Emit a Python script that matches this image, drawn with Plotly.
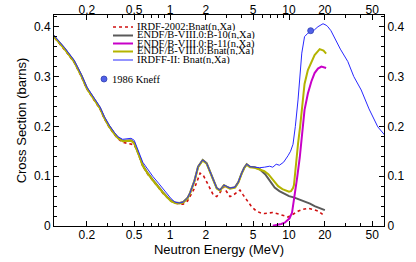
import plotly.graph_objects as go

# ---- data (Energy in MeV, cross section in barns) ----
common_E = [0.1, 0.106, 0.13, 0.156, 0.18, 0.2, 0.23, 0.258, 0.28, 0.307, 0.34, 0.366, 0.40,
            0.44, 0.47, 0.50, 0.53, 0.56, 0.59, 0.65, 0.72, 0.80, 0.87, 0.95, 1.02, 1.10,
            1.20, 1.29, 1.40, 1.47, 1.60, 1.72, 1.88, 2.03, 2.14, 2.24, 2.36, 2.47, 2.63,
            2.84, 3.0, 3.19, 3.52, 3.75, 4.0, 4.2, 4.41, 4.7, 5.15, 5.67]
common_S = [0.388, 0.381, 0.356, 0.331, 0.302, 0.277, 0.255, 0.237, 0.218, 0.201, 0.186, 0.177, 0.171,
            0.172, 0.172, 0.167, 0.153, 0.137, 0.122, 0.106, 0.092, 0.078, 0.068, 0.058, 0.051, 0.047,
            0.046, 0.048, 0.056, 0.066, 0.090, 0.119, 0.1325, 0.126, 0.112, 0.099, 0.086, 0.076, 0.072,
            0.082, 0.079, 0.076, 0.078, 0.088, 0.106, 0.117, 0.124, 0.119, 0.118, 0.114]

b10_E_hi = [6.3, 6.9, 7.57, 8.3, 9.2, 10.0, 11.1, 12.2, 13.5, 15.0, 16.4, 18.0, 20.0]
b10_S_hi = [0.104, 0.090, 0.077, 0.070, 0.064, 0.060, 0.057, 0.053, 0.050, 0.045, 0.040, 0.036, 0.032]

bnat_E_hi = [6.2, 6.7, 7.3, 8.1, 8.8, 9.5, 10.0, 10.4, 10.8, 11.0, 11.3, 11.5, 11.9, 12.4,
             12.9, 13.5, 14.4, 15.5, 16.4, 18.1, 19.5, 20.5]
bnat_S_hi = [0.110, 0.104, 0.093, 0.080, 0.074, 0.070, 0.069, 0.070, 0.076, 0.082, 0.110, 0.137,
             0.165, 0.200, 0.245, 0.285, 0.313, 0.332, 0.343, 0.355, 0.352, 0.346]

b11_E = [7.3, 8.0, 8.6, 9.2, 9.7, 10.1, 10.6, 11.1, 11.7, 12.3, 12.9, 13.5, 14.4, 15.4,
         16.4, 17.5, 18.7, 19.7, 20.5]
b11_S = [0.0005, 0.002, 0.004, 0.0067, 0.011, 0.0154, 0.027, 0.057, 0.097, 0.137, 0.191, 0.233,
         0.266, 0.290, 0.307, 0.316, 0.320, 0.319, 0.317]

irdf_E = [0.1, 0.106, 0.13, 0.156, 0.18, 0.2, 0.23, 0.258, 0.28, 0.307, 0.34, 0.366, 0.40,
          0.44, 0.47, 0.50, 0.53, 0.56, 0.59, 0.65, 0.72, 0.80, 0.87, 0.95, 1.02, 1.10,
          1.20, 1.29, 1.40, 1.47, 1.60, 1.79, 1.9, 2.08, 2.17, 2.3, 2.47, 2.65, 2.8, 2.95,
          3.19, 3.4, 3.87, 4.1, 4.41, 4.8, 5.3, 5.8, 6.25, 7.3, 8.3, 9.8, 10.8, 12.0, 13.1,
          14.4, 16.0, 17.5, 20.0]
irdf_S = [0.386, 0.379, 0.354, 0.329, 0.300, 0.275, 0.253, 0.235, 0.216, 0.199, 0.184, 0.175, 0.168,
          0.166, 0.165, 0.163, 0.151, 0.135, 0.120, 0.104, 0.090, 0.076, 0.066, 0.057, 0.050, 0.046,
          0.044, 0.044, 0.050, 0.059, 0.075, 0.106, 0.102, 0.084, 0.076, 0.063, 0.059, 0.068, 0.079,
          0.070, 0.059, 0.062, 0.072, 0.063, 0.052, 0.040, 0.030, 0.026, 0.025, 0.027, 0.0235, 0.018,
          0.0235, 0.030, 0.0335, 0.0355, 0.033, 0.030, 0.020]

irdff_E = [0.1, 0.106, 0.13, 0.156, 0.18, 0.2, 0.23, 0.258, 0.28, 0.307, 0.34, 0.366, 0.40,
           0.44, 0.47, 0.50, 0.53, 0.56, 0.59, 0.65, 0.72, 0.80, 0.87, 0.95, 1.02, 1.10,
           1.20, 1.29, 1.40, 1.47, 1.60, 1.72, 1.88, 2.03, 2.14, 2.24, 2.36, 2.47, 2.63,
           2.84, 3.0, 3.19, 3.52, 3.75, 4.0, 4.2, 4.41, 4.7, 5.15, 5.67, 6.2, 6.87, 7.3, 7.8,
           8.3, 9.0, 9.8, 10.3, 10.8, 11.1, 11.3, 11.9, 12.4, 12.8, 13.5, 14.4, 15.4, 16.4,
           17.5, 19.3, 20.5, 21.2, 22.5, 24.2, 27.0, 31.2, 35.0, 40.4, 47.0, 55.7, 65.0]
irdff_S = [0.389, 0.382, 0.358, 0.333, 0.304, 0.279, 0.257, 0.239, 0.220, 0.203, 0.188, 0.179, 0.174,
           0.176, 0.176, 0.172, 0.158, 0.142, 0.128, 0.113, 0.099, 0.086, 0.075, 0.064, 0.055, 0.048,
           0.046, 0.048, 0.056, 0.066, 0.090, 0.119, 0.1325, 0.126, 0.112, 0.099, 0.086, 0.076, 0.072,
           0.082, 0.079, 0.076, 0.078, 0.088, 0.106, 0.117, 0.124, 0.119, 0.118, 0.117, 0.118, 0.120,
           0.118, 0.124, 0.122, 0.128, 0.141, 0.150, 0.164, 0.185, 0.200, 0.253, 0.300, 0.347, 0.380,
           0.387, 0.390, 0.394, 0.400, 0.406, 0.403, 0.400, 0.392, 0.377, 0.355, 0.330, 0.300, 0.273,
           0.235, 0.199, 0.180]

kneff_E = [15.2]
kneff_S = [0.392]

legend_labels = ["IRDF-2002:Bnat(n,Xa)", "ENDF/B-VIII.0:B-10(n,Xa)", "ENDF/B-VIII.0:B-11(n,Xa)",
                 "ENDF/B-VIII.0:Bnat(n,Xa)", "IRDFF-II: Bnat(n,Xa)"]
kneff_label = "1986 Kneff"

x_tickvals = [0.2, 0.5, 1, 2, 5, 10, 20, 50]
x_ticktext = ["0.2", "0.5", "1", "2", "5", "10", "20", "50"]
x_minor = [0.3, 0.4, 0.6, 0.7, 0.8, 0.9, 3, 4, 6, 7, 8, 9, 30, 40]
y_tickvals = [0, 0.1, 0.2, 0.3, 0.4]
y_ticktext = ["0", "0.1", "0.2", "0.3", "0.4"]

# ---- styles ----
RED = "#d01010"
GRAY = "#5a5a5a"
MAG = "#c800c8"
OLIVE = "#b4b400"
BLUE = "#2828ff"
KNEFF = "#5060e8"

W, H = 416, 262
L, R, T, B = 54, 32, 15, 36
PW, PH = W - L - R, H - T - B

fig = go.Figure()
fig.add_trace(go.Scatter(x=irdf_E, y=irdf_S, mode="lines",
                         line=dict(color=RED, width=1.6, dash="dot"), name=legend_labels[0]))
fig.add_trace(go.Scatter(x=common_E + b10_E_hi, y=common_S + b10_S_hi, mode="lines",
                         line=dict(color=GRAY, width=2), name=legend_labels[1]))
fig.add_trace(go.Scatter(x=b11_E, y=b11_S, mode="lines",
                         line=dict(color=MAG, width=2), name=legend_labels[2]))
fig.add_trace(go.Scatter(x=common_E + bnat_E_hi, y=[s - 0.001 for s in common_S] + bnat_S_hi, mode="lines",
                         line=dict(color=OLIVE, width=2), name=legend_labels[3]))
fig.add_trace(go.Scatter(x=irdff_E, y=irdff_S, mode="lines",
                         line=dict(color=BLUE, width=1), name=legend_labels[4]))
fig.add_trace(go.Scatter(x=kneff_E, y=kneff_S, mode="markers",
                         marker=dict(color=KNEFF, size=6, line=dict(color="#3040b0", width=0.8)),
                         name=kneff_label))
# helper trace so the mirrored top/right axes are drawn with labels
fig.add_trace(go.Scatter(x=kneff_E, y=kneff_S, mode="markers", xaxis="x2", yaxis="y2",
                         marker=dict(opacity=0), hoverinfo="skip", showlegend=False))

xr = [-0.975, 1.798]
yr = [0, 0.4235]
SANS = "Liberation Sans, Arial, sans-serif"
tickfont = dict(family=SANS, size=12, color="black")
common_x = dict(type="log", range=xr, tickvals=x_tickvals, ticktext=x_ticktext, ticks="inside",
                ticklen=5, tickwidth=1, tickcolor="black", showline=True, linecolor="black",
                linewidth=1, showgrid=False, zeroline=False, tickfont=tickfont, automargin=False,
                minor=dict(tickvals=x_minor, ticks="inside", ticklen=3, tickcolor="black", showgrid=False))
common_y = dict(range=yr, tickvals=y_tickvals, ticktext=y_ticktext, ticks="inside", ticklen=5,
                tickwidth=1, tickcolor="black", showline=True, linecolor="black", linewidth=1,
                showgrid=False, zeroline=False, tickfont=tickfont, automargin=False,
                minor=dict(dtick=0.02, tick0=0, ticks="inside", ticklen=3, tickcolor="black", showgrid=False))

fig.update_layout(
    width=W, height=H, margin=dict(l=L, r=R, t=T, b=B, autoexpand=False),
    paper_bgcolor="white", plot_bgcolor="white", showlegend=False,
    xaxis=dict(**common_x, ticklabelstandoff=-2,
               title=dict(text="Neutron Energy (MeV)", standoff=2,
                          font=dict(family=SANS, size=13, color="black"))),
    xaxis2=dict(**common_x, overlaying="x", side="top", anchor="y", ticklabelstandoff=-5),
    yaxis=dict(**common_y, title=dict(text="Cross Section (barns)", standoff=4,
                                      font=dict(family=SANS, size=13, color="black"))),
    yaxis2=dict(**common_y, overlaying="y", side="right", anchor="x"),
)

# ---- legend drawn as annotations/shapes (paper coords from pixel positions) ----
def px(xp):
    return (xp - L) / PW

def py(yp):
    return (T + PH - yp) / PH

leg_rows = [27, 35.5, 43.5, 51.5, 60]
leg_styles = [(RED, "dot", 1.6), (GRAY, "solid", 2), (MAG, "solid", 2), (OLIVE, "solid", 2), (BLUE, "solid", 1)]
legfont = dict(family="Liberation Serif, Times New Roman, serif", size=10.5, color="black")
for yrow, (col, dash, wd), lab in zip(leg_rows, leg_styles, legend_labels):
    fig.add_shape(type="line", xref="paper", yref="paper", x0=px(113), x1=px(133), y0=py(yrow), y1=py(yrow),
                  line=dict(color=col, width=wd, dash=dash))
    fig.add_annotation(xref="paper", yref="paper", x=px(136), y=py(yrow), text=lab, showarrow=False,
                       xanchor="left", yanchor="middle", font=legfont, height=8, borderpad=0,
                       valign="middle")
fig.add_shape(type="circle", xref="paper", yref="paper", x0=px(101), x1=px(107), y0=py(76), y1=py(82),
              fillcolor=KNEFF, line=dict(color="#3040b0", width=0.8))
fig.add_annotation(xref="paper", yref="paper", x=px(111), y=py(79), text=kneff_label, showarrow=False,
                   xanchor="left", yanchor="middle", font=legfont, height=8, borderpad=0)

fig.write_html("out.html", config={"displayModeBar": False},
               post_script="document.body.style.margin='0px';")
